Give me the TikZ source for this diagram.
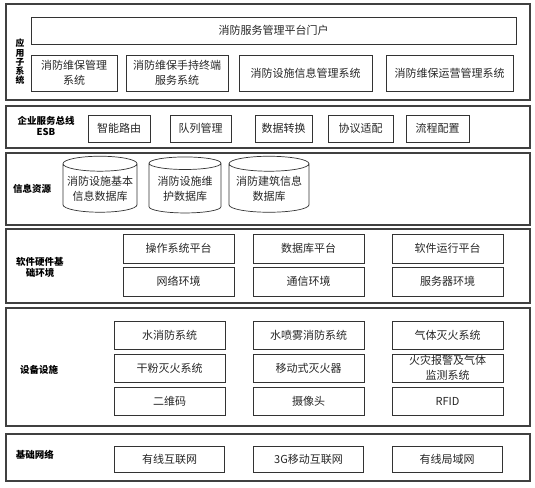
\documentclass[tikz,border=0pt]{standalone}
\usepackage{fontspec}
\setmainfont{Noto Sans CJK SC}
\usetikzlibrary{shapes.geometric}

\begin{document}
\begin{tikzpicture}[
    x=1pt, y=-1pt, % pixel grid, (0,0) at top left
    layer/.style={draw=black!75, line width=1.1pt},
    box/.style={draw=black!80, line width=0.7pt, align=center, inner sep=1pt,
        text=black!85, font=\fontsize{11}{15}\selectfont},
    db/.style={box, cylinder, shape border rotate=90, aspect=0.22},
    tag/.style={align=center, inner sep=0pt, font=\fontsize{9.5}{11}\selectfont\bfseries}
]
\useasboundingbox (0,0) rectangle (535,487);
% layer frames
\foreach \t/\b in {4/100, 106/148, 153/225, 229/303, 308/426, 434/481}
    \draw[layer] (6,\t) rectangle (530,\b);

% application subsystems
\node[tag, font=\fontsize{8.8}{9.3}\selectfont\bfseries] (app) at (20,62) {应\\用\\子\\系\\统};
\node[box, minimum width=485pt, minimum height=27pt] (portal) at (273.5,30.5) {消防服务管理平台门户};
\foreach \x/\w/\n/\txt in {74/86/app1/{消防维保管理\\系统},
        177/102/app2/{消防维保手持终端\\服务系统},
        305.5/133/app3/消防设施信息管理系统,
        449.5/127/app4/消防维保运营管理系统}
    \node[box, minimum width=\w pt, minimum height=36pt] (\n) at (\x,73) {\txt};

% ESB
\node[tag] (esb) at (46,126) {企业服务总线\\ESB};
\foreach \x/\w/\n/\txt in {119/62/esb1/智能路由, 200.5/61/esb2/队列管理,
        283.5/57/esb3/数据转换, 360.5/65/esb4/协议适配, 437.5/63/esb5/流程配置}
    \node[box, minimum width=\w pt, minimum height=27pt] (\n) at (\x,128.5) {\txt};

% information resources
\node[tag] (info) at (32,189) {信息资源};
\foreach \x/\w/\n/\txt in {100/74/db1/{消防设施基本\\信息数据库},
        185/72/db2/{消防设施维\\护数据库},
        269/80/db3/{消防建筑信息\\数据库}}
    \node[db, minimum width=\w pt, minimum height=56pt] (\n) at (\x,189) {\txt};

% software / hardware base
\node[tag] (env) at (40,267) {软件硬件基\\础环境};
\foreach \x/\y/\n/\txt in {178.5/248.5/env1/操作系统平台, 308.5/248.5/env2/数据库平台,
        447.5/248.5/env3/软件运行平台, 178.5/281.5/env4/网络环境,
        308.5/281.5/env5/通信环境, 447.5/281.5/env6/服务器环境}
    \node[box, minimum width=111pt, minimum height=29pt] (\n) at (\x,\y) {\txt};

% devices
\node[tag] (dev) at (39,370) {设备设施};
\foreach \x/\y/\n/\txt in {169.5/335.5/dev1/水消防系统, 308.5/335.5/dev2/水喷雾消防系统,
        447.5/335.5/dev3/气体灭火系统, 169.5/368/dev4/干粉灭火系统,
        308.5/368/dev5/移动式灭火器, 447.5/368/dev6/{火灾报警及气体\\监测系统},
        169.5/401/dev7/二维码, 308.5/401/dev8/摄像头, 447.5/401/dev9/RFID}
    \node[box, minimum width=111pt, minimum height=28pt] (\n) at (\x,\y) {\txt};

% base network
\node[tag] (net) at (35,455) {基础网络};
\foreach \x/\n/\txt in {169.5/net1/有线互联网, 308.5/net2/3G移动互联网, 447/net3/有线局域网}
    \node[box, minimum width=110pt, minimum height=26pt] (\n) at (\x,459) {\txt};
\end{tikzpicture}
\end{document}
